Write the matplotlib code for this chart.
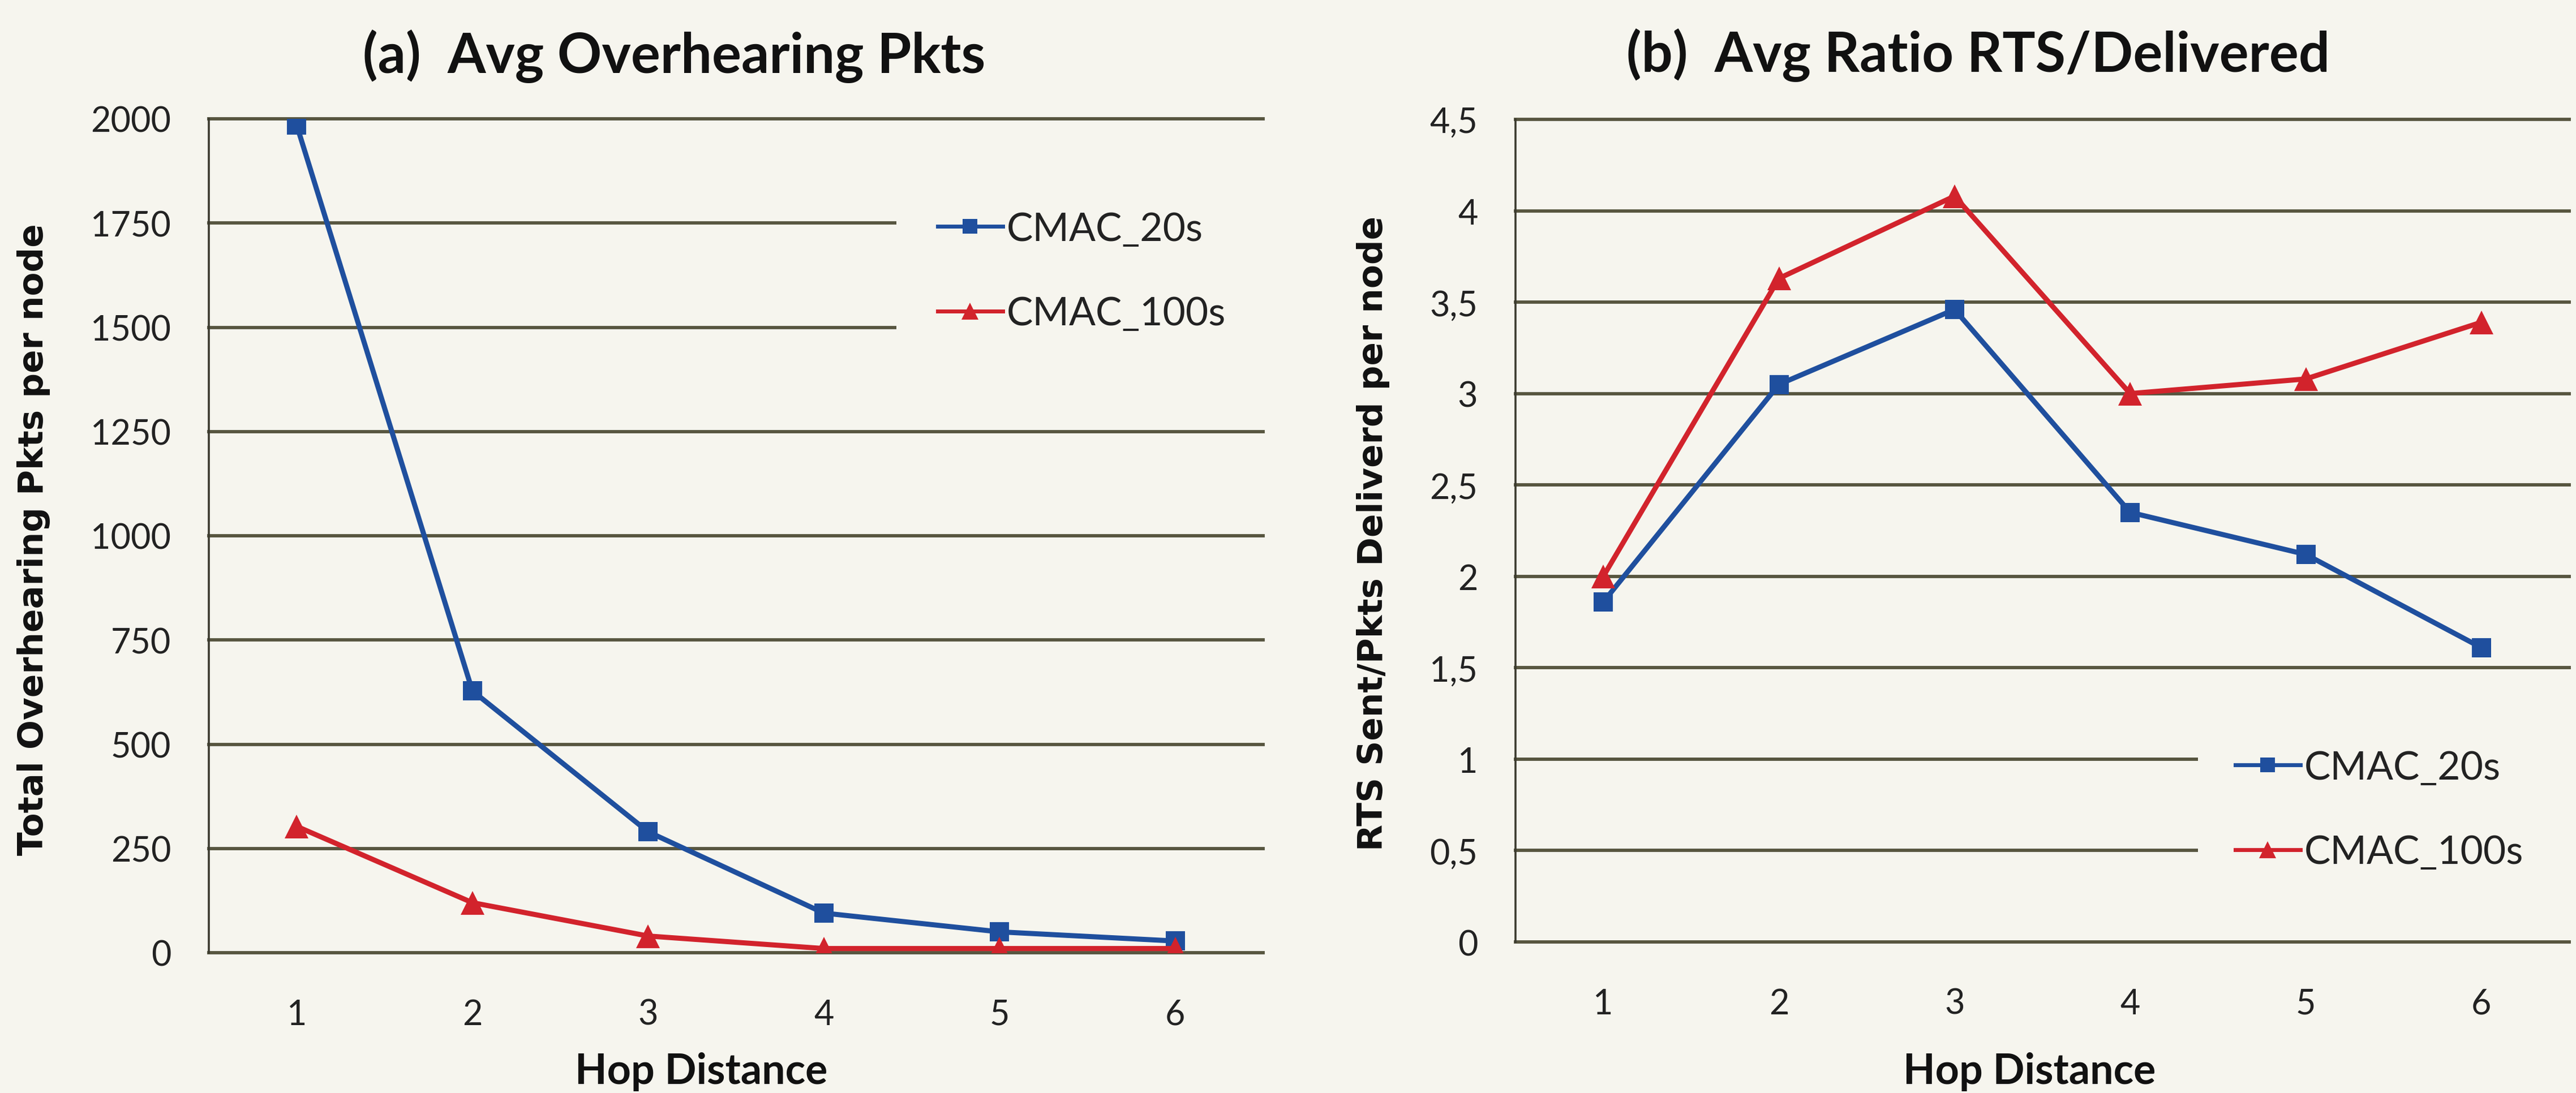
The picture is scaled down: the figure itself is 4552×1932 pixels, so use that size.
import matplotlib
matplotlib.use("Agg")
import matplotlib.pyplot as plt
from matplotlib.lines import Line2D
from matplotlib.patches import Rectangle

# data
hops = [1, 2, 3, 4, 5, 6]

overhear_20s = [1985, 628, 290, 95, 50, 28]
overhear_100s = [303, 120, 40, 10, 10, 10]

rts_20s = [1.86, 3.05, 3.46, 2.35, 2.12, 1.61]
rts_100s = [2.0, 3.63, 4.08, 3.0, 3.08, 3.39]

ticks_a = [0, 250, 500, 750, 1000, 1250, 1500, 1750, 2000]
ticks_b = [0, 0.5, 1, 1.5, 2, 2.5, 3, 3.5, 4, 4.5]
ticklabels_b = ["0", "0,5", "1", "1,5", "2", "2,5", "3", "3,5", "4", "4,5"]

series_names = ["CMAC_20s", "CMAC_100s"]

BG = "#f6f5ee"
BLUE = "#1f4f9e"
RED = "#d2232c"
GRID = "#57553f"
W, H = 4552, 1933

fig = plt.figure(figsize=(W / 100, H / 100), dpi=100, facecolor=BG)


def px_axes(x0, x1, ytop, ybot):
    return fig.add_axes([x0 / W, 1 - ybot / H, (x1 - x0) / W, (ybot - ytop) / H])


def style(ax, yticks, ylabels):
    ax.set_facecolor(BG)
    ax.set_xlim(0.5, 6.5)
    ax.set_ylim(yticks[0], yticks[-1])
    for y in yticks:
        ax.axhline(y, color=GRID, lw=4.2, zorder=0, clip_on=False)
    for s in ["top", "right", "bottom"]:
        ax.spines[s].set_visible(False)
    ax.spines["left"].set_color("#3b3a2e")
    ax.spines["left"].set_linewidth(2.6)
    ax.set_xticks(hops)
    ax.set_yticks(yticks)
    ax.set_yticklabels(ylabels)
    ax.tick_params(length=0)
    ax.tick_params(axis="y", pad=48, labelsize=44, labelcolor="#222222")
    ax.tick_params(axis="x", pad=58, labelsize=44, labelcolor="#222222")
    for lab in ax.get_xticklabels() + ax.get_yticklabels():
        lab.set_family("Lato")


def plot_pair(ax, a, b):
    ax.plot(hops, a, color=BLUE, lw=6.5, marker="s", ms=24, mew=0, zorder=3)
    ax.plot(hops, b, color=RED, lw=6.5, marker="^", ms=30, mew=0, zorder=3)


def add_legend(ax, box, handle_left, center_px):
    # blank area behind the legend, cutting the gridlines as in the original
    x0, x1, y0, y1 = box
    ax.add_patch(Rectangle((x0 / W, 1 - y1 / H), (x1 - x0) / W, (y1 - y0) / H,
                           transform=fig.transFigure, facecolor=BG, edgecolor="none",
                           zorder=1, clip_on=False))
    handles = [
        Line2D([], [], color=BLUE, lw=5, marker="s", ms=19, mew=0),
        Line2D([], [], color=RED, lw=5, marker="^", ms=22, mew=0),
    ]
    leg = ax.legend(handles, series_names, loc="center left",
                    bbox_to_anchor=(handle_left / W, 1 - center_px / H),
                    bbox_transform=fig.transFigure, frameon=False,
                    prop={"family": "Lato", "size": 50},
                    handlelength=1.65, handletextpad=0.1, labelspacing=1.25,
                    borderpad=0, borderaxespad=0)
    leg.set_zorder(2)
    for t in leg.get_texts():
        t.set_color("#222222")


# (a)
ax1 = px_axes(369, 2232, 211, 1685)
style(ax1, ticks_a, [str(t) for t in ticks_a])
plot_pair(ax1, overhear_20s, overhear_100s)
add_legend(ax1, (1584, 2245, 300, 680), 1657, 481)

# (b)
ax2 = px_axes(2678, 4540, 212, 1666)
style(ax2, ticks_b, ticklabels_b)
plot_pair(ax2, rts_20s, rts_100s)
add_legend(ax2, (3884, 4552, 1255, 1610), 3950, 1433)

title_kw = dict(family="Lato", weight="bold", size=70, ha="center", va="center", color="#111111")
fig.text(1191 / W, 1 - 100 / H, "(a)  Avg Overhearing Pkts", **title_kw)
fig.text(3496 / W, 1 - 98 / H, "(b)  Avg Ratio RTS/Delivered", **title_kw)

xlab_kw = dict(family="Lato", weight="bold", size=53, ha="center", va="center", color="#111111")
fig.text(1239 / W, 1 - 1895 / H, "Hop Distance", **xlab_kw)
fig.text(3586 / W, 1 - 1895 / H, "Hop Distance", **xlab_kw)

ylab_kw = dict(family="DejaVu Sans", weight="bold", size=44, ha="center", va="center",
               rotation=90, color="#111111")
fig.text(60 / W, 1 - 954 / H, "Total Overhearing Pkts per node", **ylab_kw)
fig.text(2427 / W, 1 - 943 / H, "RTS Sent/Pkts Deliverd per node", **ylab_kw)

fig.savefig("out.png", dpi=100, facecolor=BG)
